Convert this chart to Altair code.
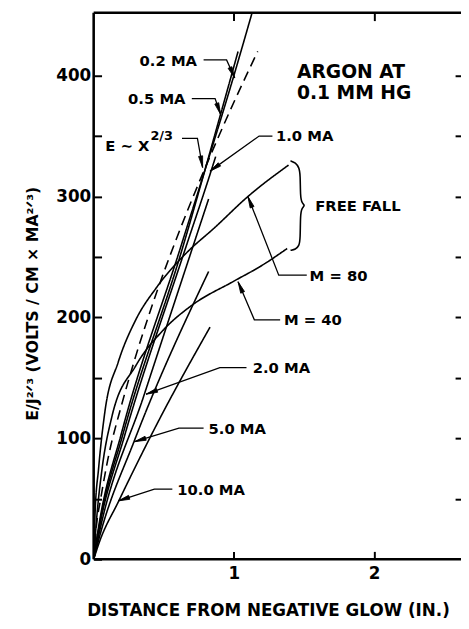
import math
import altair as alt
import pandas as pd

X_MAX = 2.62
Y_MAX = 452
W, H = 373, 555
FONT = "DejaVu Sans"

# ---- measured curves (distance in inches, E/J^2/3) ----
ma02_x = [0, 0.04, 0.2, 0.62, 1.0, 1.13]
ma02_y = [0, 30, 105, 258, 400, 452]
ma05_x = [0, 0.04, 0.21, 0.63, 0.905, 1.03]
ma05_y = [0, 28, 104, 256, 368, 420]
ma10_x = [0, 0.04, 0.22, 0.64, 0.84, 0.87]
ma10_y = [0, 26, 102, 252, 322, 333]
ma20_x = [0, 0.04, 0.36, 0.82]
ma20_y = [0, 22, 136, 298]
ma50_x = [0, 0.04, 0.29, 0.82]
ma50_y = [0, 18, 98, 238]
ma100_x = [0, 0.04, 0.178, 0.47, 0.83]
ma100_y = [0, 14, 48, 116, 192]
pow_x = [0, 0.02, 0.05, 0.1, 0.2, 0.3, 0.45, 0.6, 0.8, 1.0, 1.17]
pow_y = [0, 28, 50, 82, 128, 168, 221, 268, 325, 378, 420]
m80_x = [0, 0.01, 0.035, 0.08, 0.175, 0.3, 0.45, 0.65, 0.87, 1.10, 1.39]
m80_y = [0, 38, 75, 122, 163, 198, 225, 252, 275, 300, 326]
m40_x = [0, 0.02, 0.06, 0.13, 0.3, 0.5, 0.7, 1.0, 1.2, 1.38]
m40_y = [0, 32, 75, 118, 160, 190, 210, 230, 243, 257]

curves = [
    ("0.2 MA", ma02_x, ma02_y, "solid"),
    ("0.5 MA", ma05_x, ma05_y, "solid"),
    ("1.0 MA", ma10_x, ma10_y, "solid"),
    ("2.0 MA", ma20_x, ma20_y, "solid"),
    ("5.0 MA", ma50_x, ma50_y, "solid"),
    ("10.0 MA", ma100_x, ma100_y, "solid"),
    ("E ~ x^2/3", pow_x, pow_y, "dashed"),
    ("M = 80", m80_x, m80_y, "solid"),
    ("M = 40", m40_x, m40_y, "solid"),
]

# ---- annotation texts ----
left_labels = ["1.0 MA", "FREE  FALL", "M = 80", "M = 40", "2.0 MA", "5.0 MA", "10.0 MA"]
left_x = [1.30, 1.58, 1.54, 1.357, 1.134, 0.819, 0.596]
left_y = [350, 292, 234.5, 198, 158, 108, 57]
right_labels = ["0.2 MA", "0.5 MA", "E \u223c X"]
right_x = [0.737, 0.655, 0.398]
right_y = [412, 381, 342]
gas_labels = ["ARGON  AT", "0.1  MM  HG"]
gas_x = [1.45, 1.45]
gas_y = [403, 385.6]
sup_labels = ["2/3"]
sup_x = [0.405]
sup_y = [350]

# ---- leader lines (start ... arrow tip) ----
leaders = {
    "0.2 MA": ([0.784, 0.948, 1.006], [413, 413, 398]),
    "0.5 MA": ([0.70, 0.866, 0.905], [381, 381, 368]),
    "E~X": ([0.63, 0.74, 0.777], [348, 348, 324]),
    "1.0 MA": ([1.275, 1.18, 0.83], [350, 350, 321]),
    "M = 80": ([1.52, 1.32, 1.10], [235, 235, 300]),
    "M = 40": ([1.33, 1.146, 1.03], [198, 198, 229.5]),
    "2.0 MA": ([1.09, 0.90, 0.374], [158.5, 158.5, 136.5]),
    "5.0 MA": ([0.784, 0.608, 0.292], [108.5, 108.5, 97.3]),
    "10.0 MA": ([0.561, 0.433, 0.175], [58, 58, 48.3]),
}

brace_x = [1.404, 1.44, 1.465, 1.474, 1.474, 1.485, 1.509, 1.485, 1.474, 1.474, 1.465, 1.44, 1.404]
brace_y = [329.5, 328, 324, 318, 300, 294.5, 292.6, 290.5, 285, 265, 259, 256.3, 255.5]

x_ticks = [1, 2]
y_ticks = [0, 50, 100, 150, 200, 250, 300, 350, 400]
right_ticks = [50, 100, 150, 200, 250, 300, 350, 400]

# ---- build tables ----
rows = []
for name, xs_, ys_, dash in curves:
    for i, (a, b) in enumerate(zip(xs_, ys_)):
        rows.append({"series": name, "i": i, "x": a, "y": b, "dash": dash})
df_curves = pd.DataFrame(rows)

lrows, arows = [], []
for name, (lx, ly) in leaders.items():
    for i, (a, b) in enumerate(zip(lx, ly)):
        lrows.append({"ann": name, "i": i, "x": a, "y": b})
    dxp = (lx[-1] - lx[-2]) * W / X_MAX
    dyp = (ly[-1] - ly[-2]) * H / Y_MAX
    ang = math.degrees(math.atan2(dxp, dyp)) % 360
    arows.append({"x": lx[-1], "y": ly[-1], "ang": ang})
df_lead = pd.DataFrame(lrows)
df_arrow = pd.DataFrame(arows)
df_brace = pd.DataFrame({"x": brace_x, "y": brace_y, "i": list(range(len(brace_x)))})

df_left = pd.DataFrame({"t": left_labels, "x": left_x, "y": left_y})
df_right = pd.DataFrame({"t": right_labels, "x": right_x, "y": right_y})
df_gas = pd.DataFrame({"t": gas_labels, "x": gas_x, "y": gas_y})
df_sup = pd.DataFrame({"t": sup_labels, "x": sup_x, "y": sup_y})

xs = alt.Scale(domain=[0, X_MAX], nice=False, zero=False)
ys = alt.Scale(domain=[0, Y_MAX], nice=False, zero=False)


def X(field="x"):
    return alt.X(f"{field}:Q", scale=xs, axis=None)


def Y(field="y"):
    return alt.Y(f"{field}:Q", scale=ys, axis=None)


bottom_axis = alt.Axis(
    values=x_ticks, tickSize=8, offset=-8, domain=False, grid=False,
    tickColor="black", tickWidth=2, labelColor="black", labelFont=FONT,
    labelFontWeight="bold", labelFontSize=17, labelPadding=7,
    title="DISTANCE  FROM  NEGATIVE  GLOW  (IN.)", titleFont=FONT,
    titleFontWeight="bold", titleFontSize=17, titleColor="black",
    titleX=177, titleY=60, titleAlign="center", titleBaseline="middle",
)
left_axis = alt.Axis(
    values=y_ticks, tickSize=8, offset=-8, domain=False, grid=False,
    tickColor="black", tickWidth=2, labelColor="black", labelFont=FONT,
    labelFontWeight="bold", labelFontSize=17, labelPadding=3,
    labelExpr="datum.value % 100 == 0 ? datum.label : ''",
    title="E/J\u00b2\u141f\u00b3  (VOLTS / CM \u00d7 MA\u00b2\u141f\u00b3)",
    titleFont=FONT, titleFontWeight="bold", titleFontSize=16, titleColor="black",
    titleX=-70, titleY=295, titleAngle=270, titleAlign="center", titleBaseline="middle",
)
top_axis = alt.Axis(
    orient="top", values=x_ticks, tickSize=8, offset=-8, domain=False, grid=False,
    labels=False, tickColor="black", tickWidth=2, title=None,
)
right_axis = alt.Axis(
    orient="right", values=right_ticks, tickSize=6, offset=-6, domain=False, grid=False,
    labels=False, tickColor="black", tickWidth=2, title=None,
)

lines = alt.Chart(df_curves).mark_line(
    color="black", strokeWidth=1.6, interpolate="monotone", clip=True
).encode(
    x=alt.X("x:Q", scale=xs, axis=bottom_axis),
    y=alt.Y("y:Q", scale=ys, axis=left_axis),
    detail="series:N",
    order="i:Q",
    strokeDash=alt.StrokeDash(
        "dash:N", scale=alt.Scale(domain=["solid", "dashed"], range=[[1, 0], [10, 6]]), legend=None
    ),
)

deco = alt.Chart(pd.DataFrame({"x": [1], "y": [50]})).mark_point(opacity=0).encode(
    x=alt.X("x:Q", scale=xs, axis=top_axis),
    y=alt.Y("y:Q", scale=ys, axis=right_axis),
)

border_left = alt.Chart(pd.DataFrame({"x": [0]})).mark_rule(color="black", strokeWidth=2.6).encode(x=X())
border_bottom = alt.Chart(pd.DataFrame({"y": [0]})).mark_rule(color="black", strokeWidth=2.6).encode(y=Y())
border_top = alt.Chart(pd.DataFrame({"y": [Y_MAX]})).mark_rule(color="black", strokeWidth=2.6).encode(y=Y())

lead = alt.Chart(df_lead).mark_line(color="black", strokeWidth=1.3).encode(
    x=X(), y=Y(), detail="ann:N", order="i:Q"
)
arrows = alt.Chart(df_arrow).mark_point(
    shape="M 0 0 L -0.5 2.8 L 0.5 2.8 Z", filled=True, fill="black",
    stroke="black", strokeWidth=0.8, fillOpacity=1, opacity=1, size=70
).encode(x=X(), y=Y(), angle=alt.Angle("ang:Q", scale=None))

brace = alt.Chart(df_brace).mark_line(color="black", strokeWidth=1.6, interpolate="basis").encode(
    x=X(), y=Y(), order="i:Q"
)

txt_left = alt.Chart(df_left).mark_text(
    align="left", baseline="middle", font=FONT, fontWeight="bold", fontSize=15, color="black"
).encode(x=X(), y=Y(), text="t:N")
txt_right = alt.Chart(df_right).mark_text(
    align="right", baseline="middle", font=FONT, fontWeight="bold", fontSize=15, color="black"
).encode(x=X(), y=Y(), text="t:N")
txt_gas = alt.Chart(df_gas).mark_text(
    align="left", baseline="middle", font=FONT, fontWeight="bold", fontSize=19, color="black"
).encode(x=X(), y=Y(), text="t:N")
txt_sup = alt.Chart(df_sup).mark_text(
    align="left", baseline="middle", font=FONT, fontWeight="bold", fontSize=13, color="black"
).encode(x=X(), y=Y(), text="t:N")

chart = alt.layer(
    lines, deco, border_left, border_bottom, border_top, lead, arrows, brace,
    txt_left, txt_right, txt_gas, txt_sup,
).resolve_axis(x="independent", y="independent").properties(
    width=W, height=H,
    autosize=alt.AutoSizeParams(type="none"),
    padding={"left": 87, "top": 0, "right": 0, "bottom": 66},
    background="white",
).configure_view(strokeWidth=0)

chart.save("out.html", embed_options={"renderer": "svg", "actions": False})
